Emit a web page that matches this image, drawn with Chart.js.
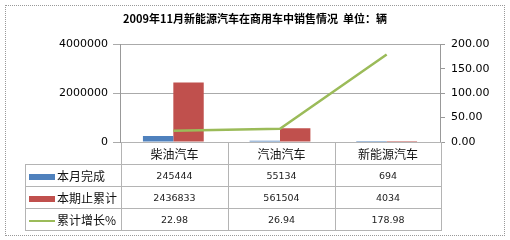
<!DOCTYPE html>
<html>
<head>
<meta charset="utf-8">
<script src="https://cdn.jsdelivr.net/npm/chart.js@4.4.1/dist/chart.umd.min.js"></script>
<style>
  html, body { margin: 0; padding: 0; background: #fff; }
  #wrap { position: relative; width: 510px; height: 240px; }
  #frame { position: absolute; left: 5px; top: 5px; width: 498px; height: 229px; border: 1px dotted #999; pointer-events: none; }
  #tbl { position: absolute; left: 25px; top: 142px; border-collapse: collapse; font-family: "DejaVu Sans", sans-serif; }
  #tbl td { border: 1px solid #b4b4b4; height: 21px; padding: 0; text-align: center; font-size: 9.5px; color: #222; }
  #tbl td.cat { font-family: "Noto Sans CJK SC", sans-serif; font-size: 12px; color: #111; }
  #tbl td.lab { text-align: left; font-family: "Noto Sans CJK SC", sans-serif; font-size: 12px; color: #111; padding-left: 3px; white-space: nowrap; }
  #tbl td.blank { border: none; border-right: 1px solid #b4b4b4; }
  .sw { display: inline-block; width: 26px; height: 6px; vertical-align: middle; margin-right: 2px; position: relative; top: -1px; }
  .ln { display: inline-block; width: 26px; height: 2px; vertical-align: middle; margin-right: 2px; position: relative; top: -1px; }
</style>
</head>
<body>
<div id="wrap">
  <canvas id="chart" width="510" height="240"></canvas>
  <table id="tbl"></table>
  <div id="frame"></div>
</div>
<script>
const categories = ['柴油汽车', '汽油汽车', '新能源汽车'];
const monthDone = [245444, 55134, 694];
const totalToDate = [2436833, 561504, 4034];
const growthPct = [22.98, 26.94, 178.98];
const seriesNames = ['本月完成', '本期止累计', '累计增长%'];

const blue = '#4F81BD', red = '#C0504D', green = '#9BBB59';

const ctx = document.getElementById('chart').getContext('2d');
const chart = new Chart(ctx, {
    type: 'bar',
    data: {
        labels: categories,
        datasets: [
            { label: seriesNames[0], data: monthDone, backgroundColor: blue, yAxisID: 'y', order: 2 },
            { label: seriesNames[1], data: totalToDate, backgroundColor: red, yAxisID: 'y', order: 2 },
            { type: 'line', label: seriesNames[2], data: growthPct, borderColor: green, borderWidth: 2.5,
              pointRadius: 0, yAxisID: 'y1', order: 1, tension: 0 }
        ]
    },
    options: {
        responsive: false,
        animation: false,
        layout: { padding: { left: 0, right: 0, top: 0, bottom: 0 } },
        datasets: { bar: { categoryPercentage: 0.57, barPercentage: 1 } },
        plugins: {
            legend: { display: false },
            tooltip: { enabled: false },
            title: {
                display: true,
                text: '2009年11月新能源汽车在商用车中销售情况  单位：辆',
                color: '#000',
                font: { family: '"Noto Sans CJK SC", sans-serif', size: 11, weight: 'bold' },
                padding: { top: 12, bottom: 19 }
            }
        },
        scales: {
            x: {
                ticks: { display: false },
                grid: { display: false },
                border: { display: false },
                afterFit: function(scale) { scale.height = 98; }
            },
            y: {
                position: 'left',
                min: 0, max: 4000000,
                ticks: { stepSize: 2000000, color: '#000', padding: 5,
                         callback: function(v) { return String(v); },
                         font: { family: '"DejaVu Sans", sans-serif', size: 11 } },
                grid: { color: '#aaa', tickLength: 7 },
                border: { color: '#999' },
                afterFit: function(scale) { scale.width = 120; }
            },
            y1: {
                position: 'right',
                min: 0, max: 200,
                ticks: { stepSize: 50, color: '#000', padding: 6,
                         callback: function(v) { return v.toFixed(2); },
                         font: { family: '"DejaVu Sans", sans-serif', size: 11 } },
                grid: { drawOnChartArea: false, color: '#999', tickLength: 5 },
                border: { color: '#999' },
                afterFit: function(scale) { scale.width = 70; }
            }
        }
    }
});

// data table under the plot
const tbl = document.getElementById('tbl');
let html = '<tr><td class="blank" style="width:95px"></td>';
categories.forEach(function(c, i) {
    html += '<td class="cat" style="width:' + (i == 2 ? 105 : 106) + 'px">' + c + '</td>';
});
html += '</tr>';
const rows = [
    { name: seriesNames[0], vals: monthDone, sw: '<span class="sw" style="background:' + blue + '"></span>' },
    { name: seriesNames[1], vals: totalToDate, sw: '<span class="sw" style="background:' + red + '"></span>' },
    { name: seriesNames[2], vals: growthPct.map(function(v) { return v.toFixed(2); }), sw: '<span class="ln" style="background:' + green + '"></span>' }
];
rows.forEach(function(r) {
    html += '<tr><td class="lab">' + r.sw + r.name + '</td>';
    r.vals.forEach(function(v) { html += '<td>' + v + '</td>'; });
    html += '</tr>';
});
tbl.innerHTML = html;
</script>
</body>
</html>
